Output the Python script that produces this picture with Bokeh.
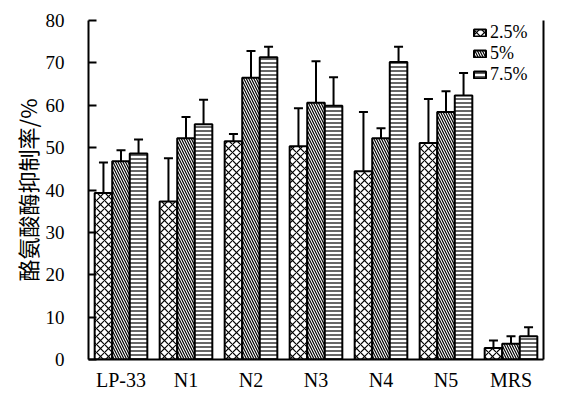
from bokeh.plotting import figure
from bokeh.models import (ColumnDataSource, Range1d, FixedTicker, LinearAxis,
                          Whisker, TeeHead, Legend, LegendItem)
from bokeh.embed import file_html
from bokeh.resources import INLINE

categories = ["LP-33", "N1", "N2", "N3", "N4", "N5", "MRS"]
series_names = ["2.5%", "5%", "7.5%"]
v25 = [39.3, 37.3, 51.5, 50.3, 44.4, 51.1, 2.7]
e25 = [7.2, 10.2, 1.7, 9.0, 14.0, 10.4, 1.8]
v5 = [46.8, 52.2, 66.5, 60.6, 52.2, 58.4, 3.7]
e5 = [2.6, 5.0, 6.3, 9.8, 2.4, 4.9, 1.8]
v75 = [48.6, 55.5, 71.3, 59.9, 70.2, 62.3, 5.5]
e75 = [3.3, 5.8, 2.5, 6.7, 3.6, 5.3, 2.1]
y_ticks = [0, 10, 20, 30, 40, 50, 60, 70, 80]

values = [v25, v5, v75]
errors = [e25, e5, e75]
hatches = ["x", "\\", "-"]
hatch_scales = [8, 5, 4]
bar_w = 0.27
offsets = [-bar_w, 0.0, bar_w]
# legend item positions (screen px from frame bottom-left)
legend_x = 384
legend_y = [316, 295, 274]

p = figure(width=576, height=399, output_backend="svg", toolbar_location=None,
           x_range=Range1d(0, len(categories)), y_range=Range1d(0, 80),
           min_border_left=88, min_border_right=33, min_border_top=20,
           min_border_bottom=40)
p.xgrid.visible = False
p.ygrid.visible = False
p.outline_line_color = None
p.background_fill_color = "white"

centers = [i + 0.5 for i in range(len(categories))]
sources = []
for k in range(3):
    xs = [c + offsets[k] for c in centers]
    src = ColumnDataSource(dict(x=xs, top=values[k],
                                upper=[v + e for v, e in zip(values[k], errors[k])],
                                lower=[v - e for v, e in zip(values[k], errors[k])]))
    r = p.vbar(x="x", top="top", width=bar_w, bottom=0, source=src,
               fill_color="white", line_color="black", line_width=2,
               hatch_pattern=hatches[k], hatch_scale=hatch_scales[k],
               hatch_color="black", hatch_weight=1.2)
    sources.append(src)
    lg = Legend(items=[LegendItem(label=series_names[k], renderers=[r])],
                location=(legend_x, legend_y[k]),
                label_text_font="Liberation Serif", label_text_font_size="18px",
                label_text_color="black",
                glyph_width=15, glyph_height=9, label_height=14, spacing=0,
                padding=0, margin=0, border_line_color=None,
                background_fill_alpha=0, label_standoff=3)
    p.add_layout(lg)

for src in sources:
    w = Whisker(base="x", upper="upper", lower="lower", source=src,
                line_color="black", line_width=2,
                upper_head=TeeHead(size=9, line_width=2, line_color="black"),
                lower_head=TeeHead(size=9, line_width=2, line_color="black"))
    p.add_layout(w)

# axes
yax = p.yaxis[0]
yax.ticker = FixedTicker(ticks=y_ticks)
yax.major_tick_in = 8
yax.major_tick_out = 0
yax.minor_tick_line_color = None
yax.axis_line_width = 2
yax.major_tick_line_width = 2
yax.major_label_text_font = "Liberation Serif"
yax.major_label_text_font_size = "19px"
yax.major_label_text_color = "black"
yax.major_label_standoff = 24
yax.axis_label = "酪氨酸酶抑制率/%"
yax.axis_label_text_font = "Noto Sans CJK SC"
yax.axis_label_text_font_style = "normal"
yax.axis_label_text_font_size = "22px"
yax.axis_label_text_color = "black"
yax.axis_label_standoff = 0

xax = p.xaxis[0]
xax.ticker = FixedTicker(ticks=centers)
xax.major_label_overrides = {c: name for c, name in zip(centers, categories)}
xax.major_tick_in = 0
xax.major_tick_out = 0
xax.minor_tick_line_color = None
xax.axis_line_width = 2
xax.major_label_text_font = "Liberation Serif"
xax.major_label_text_font_size = "20px"
xax.major_label_text_color = "black"
xax.major_label_standoff = 9

rax = LinearAxis(ticker=FixedTicker(ticks=[]), major_tick_line_color=None,
                 minor_tick_line_color=None, major_label_text_font_size="0px",
                 axis_line_width=2)
p.add_layout(rax, "right")

open("out.html", "w").write(file_html(p, INLINE))
